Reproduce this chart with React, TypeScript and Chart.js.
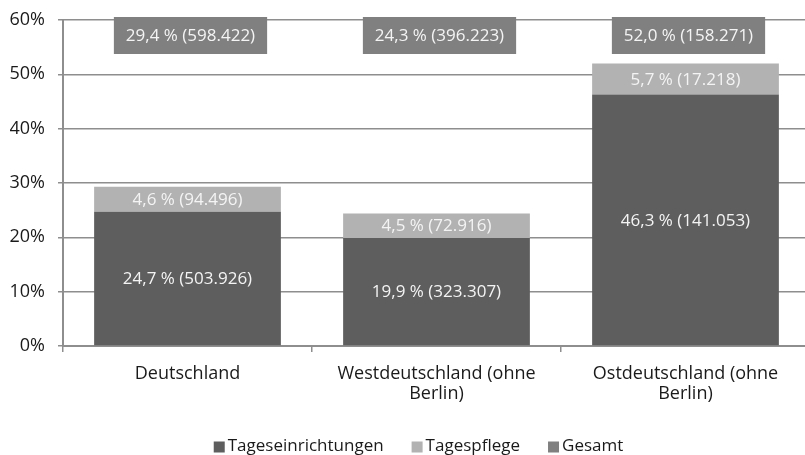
import React, { useEffect, useRef } from "react";
import { Chart, registerables } from "chart.js";

Chart.register(...registerables);

const categories: string[][] = [
  ["Deutschland"],
  ["Westdeutschland (ohne", "Berlin)"],
  ["Ostdeutschland (ohne", "Berlin)"],
];
const seriesNames = ["Tageseinrichtungen", "Tagespflege", "Gesamt"];
const einrichtungenPct = [24.7, 19.9, 46.3];
const einrichtungenCount = [503926, 323307, 141053];
const pflegePct = [4.6, 4.5, 5.7];
const pflegeCount = [94496, 72916, 17218];
const gesamtPct = [29.4, 24.3, 52.0];
const gesamtCount = [598422, 396223, 158271];
const yTicks = [0, 10, 20, 30, 40, 50, 60];

const FONT = "'Open Sans', 'Liberation Sans', Arial, sans-serif";
const DARK = "#5e5e5e";
const LIGHT = "#b2b2b2";
const MID = "#808080";
const GRID = "#8e8e8e";

const fmtPct = (v: number) => v.toFixed(1).replace(".", ",");
const fmtCount = (n: number) => n.toString().replace(/\B(?=(\d{3})+(?!\d))/g, ".");
const label = (p: number, n: number) => `${fmtPct(p)} % (${fmtCount(n)})`;

const labelPlugin = {
  id: "labelPlugin",
  afterDatasetsDraw(chart: any) {
    const { ctx, chartArea } = chart;
    ctx.save();
    ctx.font = `17px ${FONT}`;
    ctx.textAlign = "center";
    ctx.textBaseline = "middle";
    const counts = [einrichtungenCount, pflegeCount];
    [0, 1].forEach((di) => {
      const meta = chart.getDatasetMeta(di);
      meta.data.forEach((el: any, i: number) => {
        const v = chart.data.datasets[di].data[i] as number;
        ctx.fillStyle = "#f4f4f4";
        ctx.fillText(label(v, counts[di][i]), el.x, (el.y + el.base) / 2 + 1);
      });
    });
    // Gesamt boxes at top
    const xScale = chart.scales.x;
    gesamtPct.forEach((v, i) => {
      const t = label(v, gesamtCount[i]);
      const w = ctx.measureText(t).width + 24;
      const h = 37;
      const cx = xScale.getPixelForValue(i) + 3;
      const cy = chartArea.top + 15.5;
      ctx.fillStyle = MID;
      ctx.fillRect(cx - w / 2, cy - h / 2, w, h);
      ctx.fillStyle = "#f4f4f4";
      ctx.fillText(t, cx, cy + 1);
    });
    ctx.restore();
  },
  afterDraw(chart: any) {
    const { ctx, chartArea } = chart;
    ctx.save();
    ctx.font = `17px ${FONT}`;
    ctx.textBaseline = "middle";
    ctx.textAlign = "left";
    const box = 11;
    const gap = 3;
    const spacing = 28;
    const items = chart.data.datasets.map((d: any) => ({
      text: d.label,
      color: d.backgroundColor,
      w: ctx.measureText(d.label).width,
    }));
    const total =
      items.reduce((s: number, it: any) => s + box + gap + it.w, 0) + spacing * (items.length - 1);
    let x = (chartArea.left + chartArea.right) / 2 - 18 - total / 2;
    const y = 446;
    items.forEach((it: any) => {
      ctx.fillStyle = it.color;
      ctx.fillRect(x, y - box / 2 + 1, box, box);
      ctx.fillStyle = "#1a1a1a";
      ctx.fillText(it.text, x + box + gap, y);
      x += box + gap + it.w + spacing;
    });
    ctx.restore();
  },
};

export default function App() {
  const ref = useRef<HTMLCanvasElement | null>(null);
  useEffect(() => {
    if (!ref.current) return;
    const chart = new Chart(ref.current, {
      type: "bar",
      data: {
        labels: categories as any,
        datasets: [
          {
            type: "bar",
            label: seriesNames[0],
            data: einrichtungenPct,
            backgroundColor: DARK,
            categoryPercentage: 0.75,
            barPercentage: 1,
          },
          {
            type: "bar",
            label: seriesNames[1],
            data: pflegePct,
            backgroundColor: LIGHT,
            categoryPercentage: 0.75,
            barPercentage: 1,
          },
          {
            type: "line",
            label: seriesNames[2],
            data: gesamtPct,
            backgroundColor: MID,
            borderColor: MID,
            showLine: false,
            pointRadius: 0,
            pointHoverRadius: 0,
          } as any,
        ],
      },
      options: {
        responsive: false,
        animation: false,
        devicePixelRatio: 1,
        layout: { padding: { left: 10, top: 20, right: 2, bottom: 0 } },
        plugins: {
          legend: { display: false },
          tooltip: { enabled: false },
        },
        scales: {
          x: {
            stacked: true,
            afterFit: (scale: any) => {
              scale.height = 109;
            },
            grid: {
              offset: true,
              drawOnChartArea: false,
              drawTicks: true,
              tickLength: 6,
              color: GRID,
              lineWidth: 1.5,
            },
            border: { color: GRID, width: 2 },
            ticks: {
              color: "#1a1a1a",
              padding: 12,
              font: { family: FONT, size: 18, lineHeight: 1.1 },
              maxRotation: 0,
              autoSkip: false,
            },
          },
          y: {
            stacked: true,
            min: 0,
            max: 60,
            afterBuildTicks: (scale: any) => {
              scale.ticks = yTicks.map((v) => ({ value: v }));
            },
            afterFit: (scale: any) => {
              scale.width = 53;
              scale.paddingTop = 0;
              scale.paddingBottom = 0;
            },
            grid: { color: GRID, lineWidth: 1.5, tickLength: 5 },
            border: { color: GRID, width: 2 },
            ticks: {
              color: "#1a1a1a",
              padding: 13,
              font: { family: FONT, size: 18 },
              callback: (v: any) => `${v}%`,
            },
          },
        },
      },
      plugins: [labelPlugin],
    });
    return () => chart.destroy();
  }, []);
  return (
    <div
      style={{
        position: "fixed",
        left: 0,
        top: 0,
        width: 805,
        height: 455,
        overflow: "hidden",
        background: "#fff",
      }}
    >
      <canvas ref={ref} width={812} height={455} style={{ display: "block" }} />
    </div>
  );
}
